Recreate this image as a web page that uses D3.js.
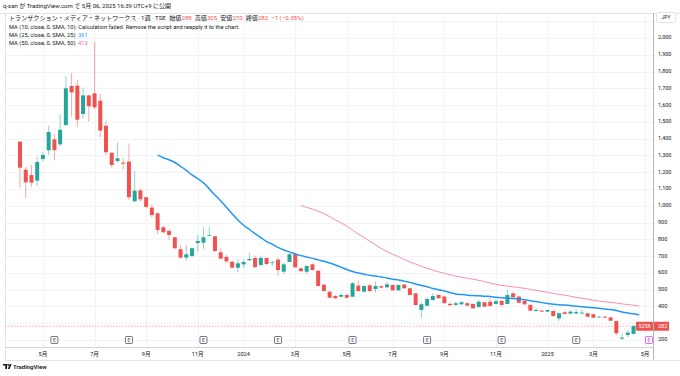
<!DOCTYPE html>
<html><head><meta charset="utf-8">
<script src="https://cdn.jsdelivr.net/npm/d3@7"></script>
<style>
html,body{margin:0;padding:0;background:#fff;}
svg{display:block;font-family:Roboto,"Noto Sans CJK JP",sans-serif;}
</style></head>
<body><svg id="c" width="680" height="376"></svg>
<script>
// ---- data ----
const firstWeek = "2023-04-03";           // Monday of first weekly bar
const opens  = [1382,1215,1183,1150,1279,1331,1396,1366,1481,1714,1716,1547,1658,1670,1626,1477,1316,1267,1257,1263,1027,1092,1051,989,955,872,850,812,741,691,701,778,780,822,818,723,695,667,631,651,675,689,647,689,659,679,607,665,711,627,607,651,613,530,488,462,458,468,458,524,488,526,504,520,514,528,496,530,508,478,379,404,438,468,459,415,409,413,419,415,397,425,428,415,434,415,478,459,433,409,373,375,369,373,329,365,357,359,361,359,353,335,339,335,313,208,230,236,288];
const highs  = [1385,1230,1243,1291,1319,1476,1428,1545,1773,1791,1751,1706,1662,1978,1666,1505,1320,1378,1283,1372,1206,1104,1055,1009,958,881,860,815,766,766,750,826,872,874,820,744,707,671,683,683,720,703,703,692,675,690,661,720,717,633,647,657,615,532,490,468,482,478,546,558,524,532,548,528,548,530,530,534,510,480,425,455,478,472,462,427,427,433,425,417,438,427,449,444,436,498,484,464,438,413,389,377,381,375,363,373,379,383,383,361,359,341,341,337,315,240,260,290,305];
const lows   = [1108,1045,1114,1120,1263,1303,1271,1356,1478,1531,1468,1523,1501,1577,1408,1303,1227,1257,1217,1034,1020,1024,987,929,830,836,798,740,685,671,693,726,742,818,726,681,661,627,604,631,671,627,641,647,643,582,595,663,631,604,595,615,516,488,450,444,456,449,456,488,482,484,484,508,512,494,494,504,466,406,333,402,436,447,415,403,405,405,399,387,389,397,399,413,403,413,449,419,407,371,369,367,367,339,315,353,353,353,353,335,329,333,331,313,230,200,216,234,270];
const closes = [1227,1140,1138,1261,1303,1440,1332,1453,1700,1676,1513,1658,1593,1587,1448,1319,1243,1283,1251,1051,1090,1039,993,945,856,842,826,747,691,711,747,790,812,826,730,685,669,631,657,665,683,635,689,653,663,617,651,711,633,611,641,617,522,492,452,449,468,452,538,492,522,492,522,512,532,496,528,508,468,408,413,444,462,449,420,407,419,425,405,389,428,399,403,431,409,468,455,422,413,375,379,369,379,343,359,355,369,367,363,339,333,339,333,315,240,214,244,283,282];
const maPeriods = [25, 50];
const maLast = [361, 413];
const priceTicks = [200,300,400,500,600,700,800,900,1000,1100,1200,1300,1400,1500,1600,1700,1800,1900,2000];
const monthTickDates = ["2023-05-01","2023-07-03","2023-09-04","2023-11-06","2024-01-01","2024-03-04","2024-05-06","2024-07-01","2024-09-02","2024-11-04","2025-01-06","2025-03-03","2025-05-05"];
const monthTickLabels = ["5月","7月","9月","11月","2024","3月","5月","7月","9月","11月","2025","3月","5月"];
const earningsDates = ["2023-05-15","2023-08-14","2023-11-13","2024-02-12","2024-05-13","2024-08-12","2024-11-11","2025-02-10","2025-05-12"];
const lastPrice = 282, symbolCode = "5258";

// ---- setup ----
const parse = d3.utcParse("%Y-%m-%d");
const start = parse(firstWeek);
const dates = closes.map((_, i) => d3.utcDay.offset(start, 7 * i));
const bars = dates.map((d, i) => ({d, o: opens[i], h: highs[i], l: lows[i], c: closes[i]}));

const paneL = 5, paneR = 653, paneT = 13, paneB = 347, axisB = 360;
const x = d3.scaleUtc().domain([start, parse("2025-05-05")]).range([20, 645]);
const y = d3.scaleLinear().domain([200, 2000]).range([340, 38]);

const UP = "#26a69a", DOWN = "#ef5350";
const svg = d3.select("#c");
const grid = "#f0f3fa", border = "#e0e3eb", txt = "#131722";

svg.append("defs").append("clipPath").attr("id", "pc")
  .append("rect").attr("x", paneL).attr("y", paneT).attr("width", paneR - paneL).attr("height", paneB - paneT);

// gridlines
const g = svg.append("g");
g.selectAll(".hg").data(d3.range(200, 2200, 100)).join("line")
  .attr("x1", paneL).attr("x2", paneR).attr("y1", d => Math.round(y(d)) + 0.5).attr("y2", d => Math.round(y(d)) + 0.5)
  .attr("stroke", grid).attr("stroke-width", 1);
g.selectAll(".vg").data(monthTickDates).join("line")
  .attr("x1", d => Math.round(x(parse(d))) + 0.5).attr("x2", d => Math.round(x(parse(d))) + 0.5)
  .attr("y1", paneT).attr("y2", paneB).attr("stroke", grid).attr("stroke-width", 1);

// pane borders
svg.append("line").attr("x1", 0).attr("x2", 680).attr("y1", paneT + 0.5).attr("y2", paneT + 0.5).attr("stroke", border);
svg.append("line").attr("x1", paneL).attr("x2", paneR).attr("y1", paneB + 0.5).attr("y2", paneB + 0.5).attr("stroke", "#d1d4dc");
svg.append("line").attr("x1", paneL).attr("x2", 680).attr("y1", axisB + 0.5).attr("y2", axisB + 0.5).attr("stroke", border);
svg.append("line").attr("x1", paneR + 0.5).attr("x2", paneR + 0.5).attr("y1", paneT).attr("y2", axisB).attr("stroke", "#b2b5be");
svg.append("line").attr("x1", paneL + 0.5).attr("x2", paneL + 0.5).attr("y1", paneT).attr("y2", axisB).attr("stroke", border);

const plot = svg.append("g").attr("clip-path", "url(#pc)");

// last price dashed line
plot.append("line").attr("x1", paneL).attr("x2", paneR)
  .attr("y1", y(lastPrice)).attr("y2", y(lastPrice))
  .attr("stroke", DOWN).attr("stroke-opacity", 0.45).attr("stroke-dasharray", "1.5,1.5").attr("stroke-width", 1);

// candles
const cw = 4;
const cg = plot.append("g");
cg.selectAll(".w").data(bars).join("line")
  .attr("x1", d => x(d.d)).attr("x2", d => x(d.d))
  .attr("y1", d => y(d.h)).attr("y2", d => y(d.l))
  .attr("stroke", d => d.c >= d.o ? UP : DOWN).attr("stroke-opacity", 0.5).attr("stroke-width", 1);
cg.selectAll(".b").data(bars).join("rect")
  .attr("x", d => x(d.d) - cw / 2).attr("width", cw)
  .attr("y", d => y(Math.max(d.o, d.c)))
  .attr("height", d => Math.max(0.8, Math.abs(y(d.o) - y(d.c))))
  .attr("fill", d => d.c >= d.o ? UP : DOWN);

// moving averages (SMA of closes)
const maColors = ["#2196f3", "#f48fb1"];
const maTextColors = ["#2196f3", "#f06292"];
const maWidths = [1.5, 1];
maPeriods.forEach((p, k) => {
  const pts = bars.map((b, i) => i < p - 1 ? null : {d: b.d, v: d3.mean(closes.slice(i - p + 1, i + 1))}).filter(Boolean);
  plot.append("path").datum(pts)
    .attr("d", d3.line().x(d => x(d.d)).y(d => y(d.v)).curve(d3.curveMonotoneX))
    .attr("fill", "none").attr("stroke", maColors[k]).attr("stroke-width", maWidths[k]);
});

// earnings markers
const eg = svg.append("g");
earningsDates.forEach((ds, i) => {
  const cx = x(parse(ds));
  const future = i === earningsDates.length - 1;
  const col = future ? "#e040fb" : "#50535e";
  const bx = future ? Math.min(cx, paneR - 4) : cx;
  eg.append("rect").attr("x", bx - 3.5).attr("y", 336.5).attr("width", 7).attr("height", 7)
    .attr("fill", "#fff").attr("stroke", col).attr("stroke-width", 0.8).attr("rx", 0.8);
  eg.append("text").attr("x", bx).attr("y", 340.2).attr("text-anchor", "middle").attr("dominant-baseline", "middle")
    .attr("font-size", 5).attr("fill", col).text("E");
});

// right axis labels (the one hidden under the last-price label is skipped)
const ly = y(lastPrice);
const ax = svg.append("g").attr("font-size", 5.5).attr("fill", txt);
ax.selectAll("text").data(priceTicks.filter(v => Math.abs(y(v) - ly) > 6)).join("text")
  .attr("x", 658).attr("y", d => y(d)).attr("dominant-baseline", "middle")
  .text(d => d3.format(",")(d));
// JPY box
svg.append("rect").attr("x", 656.5).attr("y", 12.5).attr("width", 19).attr("height", 10).attr("fill", "#fff").attr("stroke", border).attr("rx", 1);
svg.append("text").attr("x", 666).attr("y", 18).attr("text-anchor", "middle").attr("dominant-baseline", "middle")
  .attr("font-size", 5).attr("fill", txt).text("JPY");

// last price labels
svg.append("rect").attr("x", 636).attr("y", ly - 4.5).attr("width", 17).attr("height", 9).attr("fill", DOWN).attr("rx", 1);
svg.append("text").attr("x", 644.5).attr("y", ly + 0.3).attr("text-anchor", "middle").attr("dominant-baseline", "middle")
  .attr("font-size", 5.3).attr("fill", "#fff").text(symbolCode);
svg.append("rect").attr("x", 654).attr("y", ly - 4.5).attr("width", 15).attr("height", 9).attr("fill", DOWN);
svg.append("text").attr("x", 658).attr("y", ly + 0.3).attr("dominant-baseline", "middle")
  .attr("font-size", 5.5).attr("fill", "#fff").text(lastPrice);

// time axis labels
svg.append("g").attr("font-size", 5.6).attr("fill", txt).selectAll("text").data(monthTickDates).join("text")
  .attr("x", d => x(parse(d))).attr("y", 354.5).attr("text-anchor", "middle").attr("dominant-baseline", "middle")
  .text((d, i) => monthTickLabels[i]);

// header
const hdr = svg.append("g").attr("fill", txt);
hdr.append("text").attr("x", 3).attr("y", 8).attr("font-size", 6).text("q-san が TradingView.com で 5月 06, 2025 16:39 UTC+9 に公開");
const l2 = hdr.append("text").attr("x", 9).attr("y", 20).attr("font-size", 6.1);
l2.append("tspan").text("トランザクション・メディア・ネットワークス · 1週 · TSE");
const ohlcLabels = ["始値", "高値", "安値", "終値"];
const ohlcVals = [288, 305, 270, 282];
ohlcLabels.forEach((lab, i) => {
  l2.append("tspan").attr("dx", i === 0 ? 3.5 : 3).text(lab);
  l2.append("tspan").attr("fill", DOWN).text(ohlcVals[i]);
});
l2.append("tspan").attr("dx", 3).attr("fill", DOWN).text("−1 (−0.35%)");
hdr.append("text").attr("x", 9).attr("y", 28.5).attr("font-size", 5.75).text("MA (10, close, 0, SMA, 10): Calculation failed. Remove the script and reapply it to the chart.");
maPeriods.forEach((p, k) => {
  const t = hdr.append("text").attr("x", 9).attr("y", 36.5 + 8 * k).attr("font-size", 5.75);
  t.append("tspan").text(`MA (${p}, close, 0, SMA, ${p})`);
  t.append("tspan").attr("dx", 2.5).attr("fill", maTextColors[k]).text(maLast[k]);
});

// TradingView logo
const lg = svg.append("g").attr("transform", "translate(3,364)");
lg.append("path").attr("d", "M0,0 H4 V5 H2.3 V1.6 H0 Z").attr("fill", txt);
lg.append("circle").attr("cx", 5.2).attr("cy", 0.9).attr("r", 0.9).attr("fill", txt);
lg.append("path").attr("d", "M6.8,0 H8.6 L6.6,5 H4.8 Z").attr("fill", txt);
svg.append("text").attr("x", 13).attr("y", 369).attr("font-size", 6).attr("font-weight", 600).attr("fill", txt).text("TradingView");
</script></body></html>
